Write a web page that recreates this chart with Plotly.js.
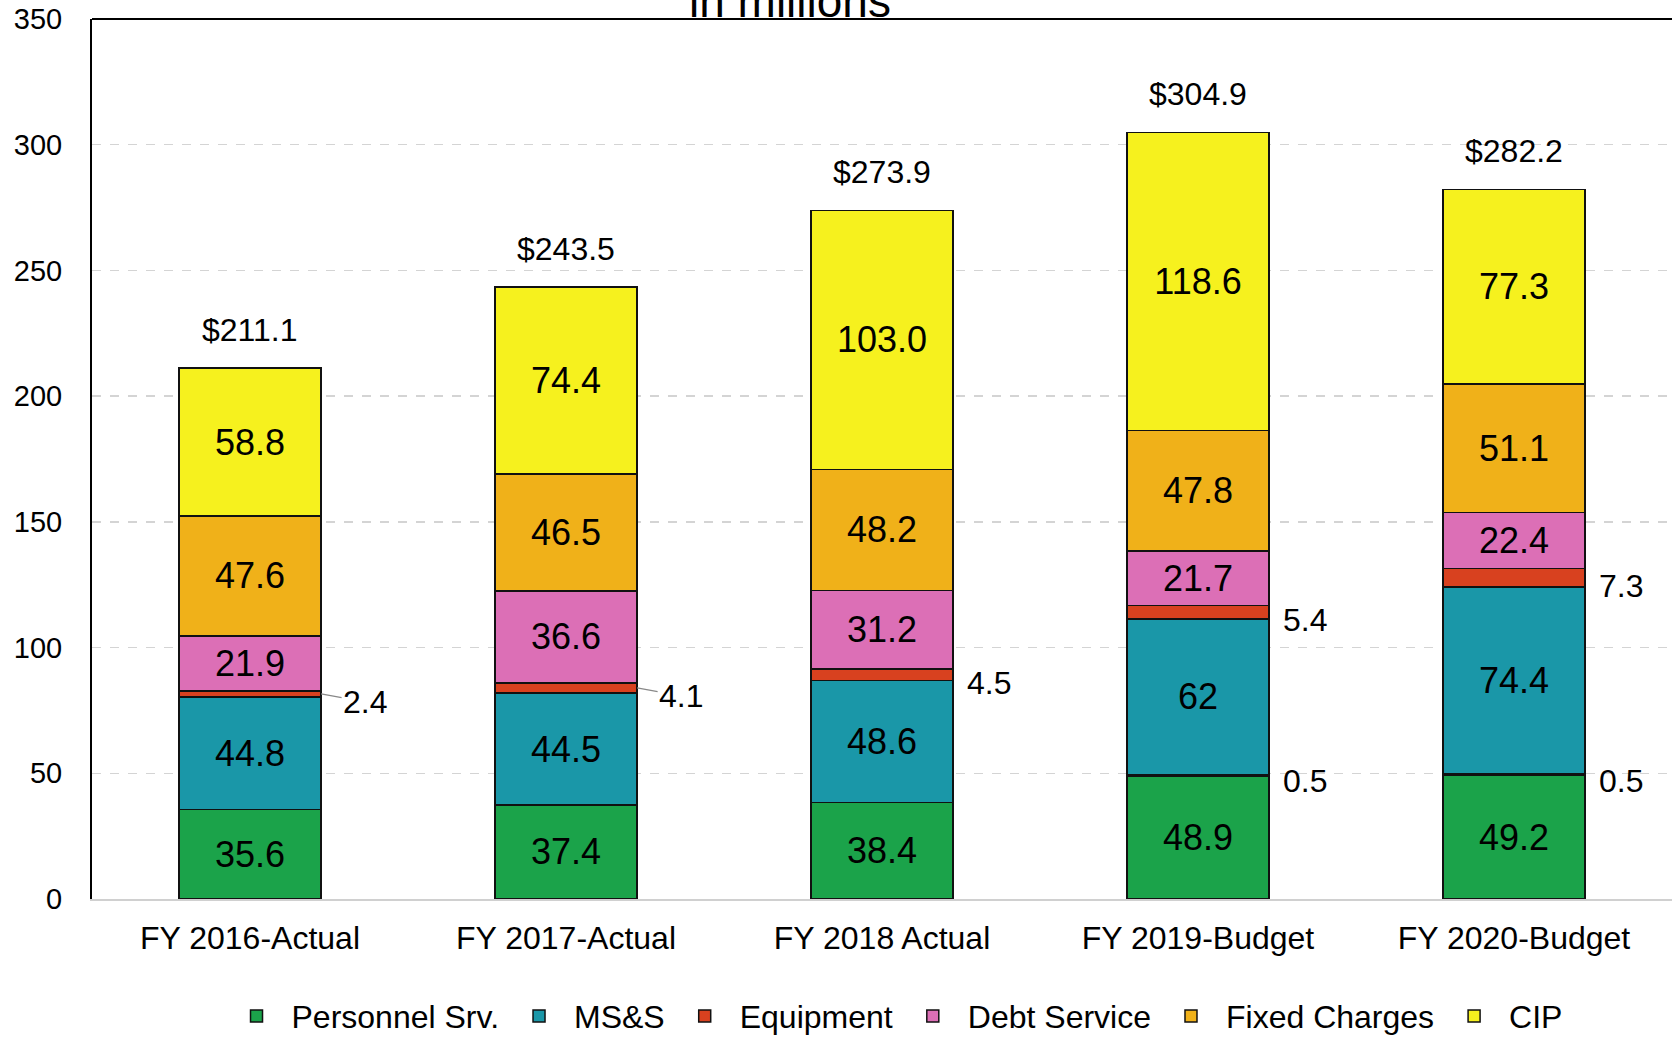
<!DOCTYPE html>
<html>
<head>
<meta charset="utf-8">
<script src="https://cdn.plot.ly/plotly-3.0.1.min.js"></script>
<style>html,body{margin:0;padding:0;background:#fff;}#chart{width:1672px;height:1039px;}</style>
</head>
<body>
<div id="chart"></div>
<script>
const categories = ["FY 2016-Actual", "FY 2017-Actual", "FY 2018 Actual", "FY 2019-Budget", "FY 2020-Budget"];
const personnel = [35.6, 37.4, 38.4, 48.9, 49.2];
const other = [0, 0, 0, 0.5, 0.5];
const msands = [44.8, 44.5, 48.6, 62, 74.4];
const equipment = [2.4, 4.1, 4.5, 5.4, 7.3];
const debtService = [21.9, 36.6, 31.2, 21.7, 22.4];
const fixedCharges = [47.6, 46.5, 48.2, 47.8, 51.1];
const cip = [58.8, 74.4, 103.0, 118.6, 77.3];
const totals = [211.1, 243.5, 273.9, 304.9, 282.2];
const yTicks = [0, 50, 100, 150, 200, 250, 300, 350];

const FONT = "Liberation Sans, Arial, sans-serif";
const fmt = (v) => (Number.isInteger(v) ? String(v) : v.toFixed(1));
const fmt1 = (v) => v.toFixed(1);

function barTrace(name, values, color, showText, textFmt, showlegend) {
  return {
    type: "bar",
    name: name,
    x: categories,
    y: values,
    marker: { color: color, line: { color: "#111", width: 1.5 } },
    text: showText ? values.map(textFmt) : values.map(() => ""),
    textposition: showText ? "inside" : "none",
    insidetextanchor: "middle",
    textangle: 0,
    constraintext: "none",
    insidetextfont: { family: FONT, size: 36, color: "#000" },
    showlegend: showlegend !== false,
    hoverinfo: "x+y+name"
  };
}

const traces = [
  barTrace("Personnel Srv.", personnel, "#1ba34a", true, fmt1),
  barTrace("Other", other, "#0d2a2e", false, fmt1, false),
  barTrace("MS&S", msands, "#1a97a8", true, fmt),
  barTrace("Equipment", equipment, "#d8411f", false, fmt1),
  barTrace("Debt Service", debtService, "#dc6fb6", true, fmt1),
  barTrace("Fixed Charges", fixedCharges, "#f0b119", true, fmt1),
  barTrace("CIP", cip, "#f6f11e", true, fmt1)
];

const LBL = 32;
const annotations = [];
categories.forEach((c, i) => {
  annotations.push({
    x: c, y: totals[i], xref: "x", yref: "y",
    text: "$" + fmt1(totals[i]), showarrow: false,
    yanchor: "middle", yshift: 38,
    font: { family: FONT, size: LBL, color: "#000" }
  });
});
const halfBar = 0.225;
categories.forEach((c, i) => {
  const base = personnel[i] + other[i] + msands[i];
  const mid = base + equipment[i] / 2;
  annotations.push({
    x: i + halfBar, y: mid, xref: "x", yref: "y",
    text: fmt1(equipment[i]), showarrow: true,
    arrowhead: 0, arrowwidth: 1.2,
    arrowcolor: i < 2 ? "#888" : "rgba(0,0,0,0)",
    ax: i < 2 ? 44 : 36, ay: 8, standoff: 0,
    font: { family: FONT, size: LBL, color: "#000" }
  });
  if (other[i] > 0) {
    annotations.push({
      x: i + halfBar, y: personnel[i] + other[i] / 2, xref: "x", yref: "y",
      text: fmt1(other[i]), showarrow: true,
      arrowhead: 0, arrowcolor: "rgba(0,0,0,0)",
      ax: 36, ay: 6,
      font: { family: FONT, size: LBL, color: "#000" }
    });
  }
});
annotations.push({
  xref: "paper", yref: "paper", x: (790 - 92) / 1580, y: 1,
  text: "in millions", showarrow: false,
  xanchor: "center", yanchor: "bottom", yshift: -10,
  font: { family: FONT, size: 46, color: "#000" }
});

const layout = {
  width: 1672, height: 1039,
  margin: { l: 92, r: 0, t: 19, b: 140 },
  paper_bgcolor: "#fff", plot_bgcolor: "#fff",
  barmode: "stack",
  bargap: 0.55,
  font: { family: FONT, color: "#000" },
  xaxis: {
    type: "category",
    showline: true, linecolor: "#d0d0d0", linewidth: 1.5,
    showgrid: false, ticks: "",
    tickfont: { family: FONT, size: 32, color: "#000" },
    ticklabelstandoff: 10,
    range: [-0.5, 4.5]
  },
  yaxis: {
    range: [0, 350],
    tickvals: yTicks,
    ticktext: yTicks.map(String),
    showline: true, linecolor: "#000", linewidth: 2,
    showgrid: true, gridcolor: "#d4d4d4", griddash: "dash", gridwidth: 1.5,
    zeroline: false, ticks: "",
    tickfont: { family: FONT, size: 29, color: "#000" },
    ticklabelstandoff: 22
  },
  shapes: [{
    type: "line", xref: "paper", yref: "paper",
    x0: 0, x1: 1, y0: 1, y1: 1,
    line: { color: "#000", width: 2 }
  }],
  legend: {
    orientation: "h",
    xref: "container", yref: "container",
    x: 0.535, xanchor: "center",
    y: 0.022, yanchor: "middle",
    font: { family: FONT, size: 32, color: "#000" },
    traceorder: "normal",
    itemwidth: 60
  },
  annotations: annotations,
  showlegend: true
};

Plotly.newPlot("chart", traces, layout, { displayModeBar: false, staticPlot: true });
</script>
</body>
</html>
